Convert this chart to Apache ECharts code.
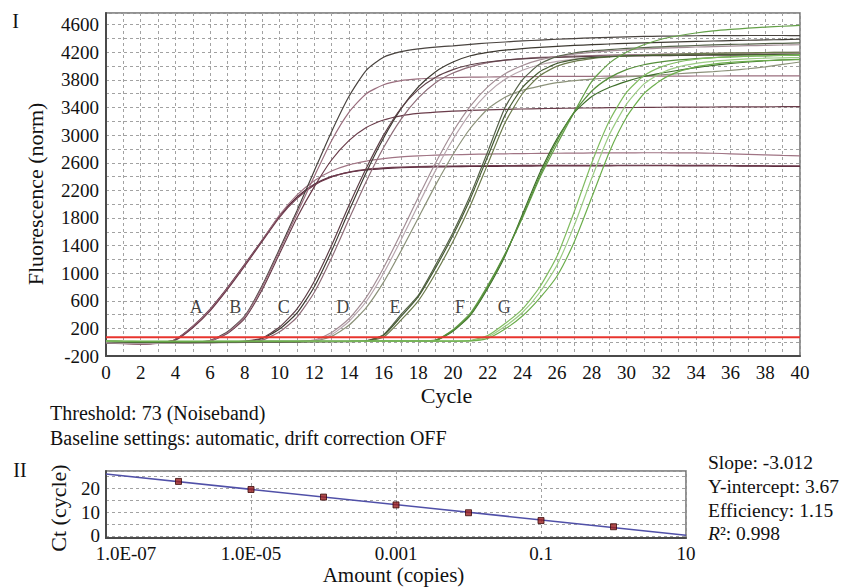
<!DOCTYPE html>
<html><head><meta charset="utf-8">
<script src="https://cdn.jsdelivr.net/npm/echarts@6/dist/echarts.min.js"></script>
<style>html,body{margin:0;padding:0;background:#fff}#c{width:844px;height:588px}</style>
</head><body><div id="c"></div>
<script>
// ---------- Panel I data ----------
const cycles = [0,1,2,3,4,5,6,7,8,9,10,11,12,13,14,15,16,17,18,19,20,21,22,23,24,25,26,27,28,29,30,31,32,33,34,35,36,37,38,39,40];
const yTickLabels = [-200,200,600,1000,1400,1800,2200,2600,3000,3400,3800,4200,4600];
const xTickLabels = [0,2,4,6,8,10,12,14,16,18,20,22,24,26,28,30,32,34,36,38,40];
const threshold = 73;
const groupNames = ['A','B','C','D','E','F','G'];
const groupLabelCycles = [5.2,7.45,10.25,13.65,16.65,20.4,22.95];
const groupLabelLevel = 510;

const curveA1 = [-8,-18,-24,-12,40,230,480,790,1130,1480,1830,2100,2290,2400,2460,2495,2515,2528,2535,2540,2543,2546,2548,2550,2552,2553,2554,2555,2556,2556,2557,2557,2557,2556,2555,2554,2553,2552,2550,2548,2546];
const curveA2 = [-10,-22,-28,-15,35,225,470,780,1120,1470,1840,2130,2340,2480,2570,2625,2660,2685,2700,2710,2716,2722,2726,2730,2733,2736,2738,2740,2742,2743,2744,2745,2745,2744,2742,2738,2730,2722,2714,2706,2700];
const curveA3 = [-5,-15,-20,-10,30,210,455,765,1105,1460,1810,2080,2275,2395,2465,2505,2525,2538,2545,2550,2553,2556,2558,2560,2561,2562,2563,2563,2564,2564,2564,2564,2563,2563,2562,2561,2560,2558,2557,2556,2555];
const curveB1 = [-5,-12,-18,-15,-8,0,25,150,380,820,1350,1900,2480,3050,3560,3940,4130,4210,4250,4275,4295,4315,4335,4350,4365,4378,4390,4400,4410,4418,4425,4430,4434,4437,4440,4442,4443,4444,4444,4444,4443];
const curveB2 = [-8,-15,-20,-18,-10,-2,15,125,345,760,1280,1800,2250,2640,2920,3110,3220,3280,3315,3335,3348,3358,3366,3373,3379,3384,3388,3392,3395,3398,3400,3402,3404,3406,3407,3408,3409,3410,3411,3412,3413];
const curveB3 = [-10,-18,-22,-18,-10,-2,20,140,370,800,1320,1860,2400,2920,3330,3600,3730,3790,3815,3828,3835,3840,3843,3846,3848,3850,3851,3852,3853,3854,3855,3855,3856,3856,3857,3857,3858,3858,3859,3859,3860];
const curveC1 = [-5,-10,-15,-15,-12,-8,-5,0,10,50,190,420,800,1320,1900,2460,2960,3380,3700,3920,4060,4150,4200,4232,4255,4272,4287,4300,4311,4321,4330,4338,4345,4352,4358,4364,4370,4375,4380,4385,4390];
const curveC2 = [-8,-14,-18,-16,-12,-8,-5,-2,5,30,150,360,720,1220,1780,2330,2820,3230,3540,3760,3900,3990,4050,4088,4110,4126,4138,4147,4154,4160,4165,4169,4173,4176,4179,4181,4183,4185,4187,4188,4190];
const curveC3 = [-6,-12,-16,-14,-10,-6,-3,2,15,60,220,480,880,1400,1980,2520,3000,3390,3660,3840,3950,4020,4060,4088,4105,4118,4127,4134,4139,4143,4147,4150,4152,4155,4157,4159,4160,4162,4163,4164,4165];
const curveD1 = [-5,-10,-12,-12,-10,-8,-6,-4,-2,0,2,8,30,140,340,650,1080,1580,2100,2600,3050,3420,3700,3890,4010,4090,4140,4175,4200,4220,4236,4249,4260,4269,4277,4284,4290,4296,4301,4306,4310];
const curveD2 = [0,-5,-8,-8,-6,-5,-4,-3,-2,0,2,5,15,85,245,500,870,1320,1800,2280,2720,3100,3380,3550,3650,3710,3760,3790,3812,3830,3846,3860,3875,3890,3905,3920,3940,3962,3990,4025,4060];
const curveD3 = [-6,-12,-15,-14,-12,-10,-8,-6,-4,-2,0,6,22,110,300,590,1000,1480,1990,2490,2940,3320,3610,3810,3940,4020,4070,4103,4125,4140,4152,4161,4169,4175,4181,4186,4190,4194,4197,4200,4203];
const curveE1 = [10,5,0,0,2,3,4,5,5,6,6,7,8,9,10,20,110,400,680,1120,1590,2130,2760,3400,3800,4030,4140,4190,4220,4240,4256,4269,4280,4290,4299,4307,4314,4320,4326,4331,4336];
const curveE2 = [12,8,4,3,4,5,6,6,7,7,8,8,9,10,11,15,75,320,600,1000,1460,1980,2580,3180,3600,3860,4000,4070,4110,4133,4148,4160,4169,4176,4182,4187,4191,4194,4197,4199,4201];
const curveE3 = [8,4,1,1,2,3,4,4,5,5,6,6,7,8,9,18,100,370,660,1080,1550,2080,2690,3290,3690,3920,4040,4095,4122,4138,4148,4154,4158,4161,4164,4166,4167,4168,4169,4170,4170];
const curveF1 = [15,12,10,9,9,10,10,11,11,12,12,13,13,14,14,15,15,16,17,30,180,420,820,1280,1800,2380,2870,3340,3780,4040,4200,4310,4390,4440,4480,4510,4532,4550,4565,4578,4590];
const curveF2 = [14,10,8,8,8,9,9,10,10,11,11,12,12,12,13,13,14,14,15,25,160,390,780,1250,1850,2450,2950,3330,3560,3690,3780,3850,3900,3940,3978,4010,4038,4060,4078,4090,4100];
const curveF3 = [13,10,8,7,8,8,9,9,10,10,11,11,12,12,13,13,14,14,15,28,170,400,800,1270,1820,2410,2920,3340,3640,3830,3950,4020,4062,4090,4110,4124,4135,4143,4150,4155,4160];
const curveG1 = [18,15,13,12,12,12,12,13,13,13,13,14,14,14,14,15,15,15,15,16,16,25,95,270,480,800,1250,1900,2600,3200,3620,3860,3990,4060,4100,4122,4136,4146,4152,4157,4162];
const curveG2 = [16,14,12,11,11,11,12,12,12,12,13,13,13,13,14,14,14,14,15,15,16,20,75,230,430,720,1120,1700,2380,3000,3450,3740,3900,3990,4040,4070,4090,4105,4115,4120,4125];
const curveG3 = [17,14,12,12,12,12,12,12,13,13,13,13,14,14,14,14,15,15,15,15,16,18,55,190,380,640,960,1460,2100,2750,3260,3600,3800,3920,3990,4030,4055,4070,4080,4090,4095];

// ---------- Panel II data ----------
const amounts = [1e-6,1e-5,1e-4,1e-3,1e-2,1e-1,1];
const ctValues = [23.0,19.6,16.4,13.1,9.8,6.5,3.9];
const fitAmounts = [1e-7,10];
const fitCt = [26.1,0.35];
const amountTickLabels = ['1.0E-07','1.0E-05','0.001','0.1','10'];
const ctTickLabels = [0,10,20];
const ctRange = [-0.85,27.4];

// ---------- styles ----------
const FONT = '"Liberation Serif","Times New Roman",serif';
const TXT = '#111111';
const curveList = [
  [curveA1,'#56283a'],[curveA2,'#a07484'],[curveA3,'#6e3a4c'],
  [curveB1,'#4a4440'],[curveB2,'#6a3c4a'],[curveB3,'#9a6e7e'],
  [curveC1,'#3e3a32'],[curveC2,'#8e6c78'],[curveC3,'#5e4048'],
  [curveD1,'#a48e96'],[curveD2,'#8c927a'],[curveD3,'#b8a6ae'],
  [curveE1,'#56624a'],[curveE2,'#6c7a4c'],[curveE3,'#465c34'],
  [curveF1,'#64a048'],[curveF2,'#3e6e2a'],[curveF3,'#558e3a'],
  [curveG1,'#80bc60'],[curveG2,'#9ccc84'],[curveG3,'#6cae4c']
];
const LOG0 = Math.log10(fitAmounts[0]);
const decade = a => Math.round((Math.log10(a) - LOG0) * 1e6) / 1e6;

const gridLine = {show:true, lineStyle:{color:'#a2a2a2', type:[3,3], width:1}};
const axisLineStyle = {show:true, onZero:false, lineStyle:{color:'#4a4a4a', width:2}};

const series = curveList.map(([arr,color]) => ({
  type:'line', xAxisIndex:0, yAxisIndex:0, silent:true,
  data: cycles.map((c,i)=>[c, arr[i]]),
  symbol:'none', smooth:0.2,
  lineStyle:{color, width:1.2}
}));
series.push({
  type:'line', xAxisIndex:0, yAxisIndex:0, silent:true, symbol:'none',
  data:[[cycles[0],threshold],[cycles[cycles.length-1],threshold]],
  lineStyle:{color:'#e8342e', width:2}, z:5
});
series.push({
  type:'scatter', xAxisIndex:0, yAxisIndex:0, silent:true, symbolSize:1,
  itemStyle:{color:'rgba(0,0,0,0)'},
  data: groupNames.map((n,i)=>[groupLabelCycles[i], groupLabelLevel, n]),
  label:{show:true, position:'inside', formatter:p=>p.data[2], fontFamily:FONT, fontSize:18, color:TXT},
  z:6
});
series.push({
  type:'line', xAxisIndex:1, yAxisIndex:1, silent:true, symbol:'none',
  data: fitAmounts.map((a,i)=>[decade(a), fitCt[i]]),
  lineStyle:{color:'#5050a8', width:1.5}
});
series.push({
  type:'scatter', xAxisIndex:1, yAxisIndex:1, silent:true, symbol:'rect', symbolSize:6,
  data: amounts.map((a,i)=>[decade(a), ctValues[i]]),
  itemStyle:{color:'#9a1e1e', borderColor:'#3a0a0a', borderWidth:1}, z:4
});

const txt = (text, x, y, size, align, extra) => Object.assign({
  type:'text', x, y, silent:true,
  style:{text, font: size+'px '+FONT, fill:TXT, textAlign:align||'left', textVerticalAlign:'middle'}
}, extra||{});

const option = {
  animation:false,
  backgroundColor:'#ffffff',
  textStyle:{fontFamily:FONT},
  grid:[
    {left:106, top:13, width:694, height:343, show:true, borderColor:'#6e6e6e', borderWidth:1.5},
    {left:106, top:471, width:580, height:67, show:true, borderColor:'#6e6e6e', borderWidth:1.5}
  ],
  xAxis:[
    {gridIndex:0, type:'value', min:cycles[0], max:cycles[cycles.length-1], interval:1,
     axisLine:axisLineStyle, axisTick:{show:false}, splitLine:gridLine,
     axisLabel:{fontFamily:FONT, fontSize:19, color:TXT, margin:7,
       formatter:v=>xTickLabels.includes(v)?String(v):''}},
    {gridIndex:1, type:'value', min:0, max:decade(fitAmounts[1]), interval:2,
     axisLine:axisLineStyle, axisTick:{show:false}, splitLine:gridLine,
     axisLabel:{fontFamily:FONT, fontSize:19, color:TXT, margin:6,
       formatter:v=>{const k=Math.round(v/2); const s=amountTickLabels[k]||''; return k===0?'{f|'+s+'}':s;},
       rich:{f:{fontFamily:FONT, fontSize:19, color:TXT, padding:[0,0,0,40]}}}}
  ],
  yAxis:[
    {gridIndex:0, type:'value', min:-200, max:4770, interval:200,
     axisLine:axisLineStyle, axisTick:{show:false}, splitLine:gridLine,
     axisLabel:{fontFamily:FONT, fontSize:19, color:TXT, margin:7,
       formatter:v=>yTickLabels.includes(v)?String(v):''}},
    {gridIndex:1, type:'value', min:ctRange[0], max:ctRange[1], splitNumber:6,
     axisLine:axisLineStyle, axisTick:{show:false}, splitLine:gridLine,
     axisLabel:{fontFamily:FONT, fontSize:19, color:TXT, margin:6,
       formatter:v=>ctTickLabels.includes(v)?String(v):''}}
  ],
  graphic:[
    txt('I', 15.5, 21, 20, 'center'),
    txt('II', 20, 470, 20, 'center'),
    txt('Fluorescence (norm)', 35, 194, 22, 'center', {rotation:Math.PI/2}),
    txt('Cycle', 446.5, 395, 22, 'center'),
    txt('Threshold: 73 (Noiseband)', 50, 413, 20, 'left'),
    txt('Baseline settings: automatic, drift correction OFF', 50, 438, 20, 'left'),
    txt('Ct (cycle)', 58, 508, 22, 'center', {rotation:Math.PI/2}),
    txt('Amount (copies)', 393.5, 575, 21, 'center'),
    txt('Slope: -3.012', 708, 462, 19.5, 'left'),
    txt('Y-intercept: 3.67', 708, 486.5, 19.5, 'left'),
    txt('Efficiency: 1.15', 708, 510, 19.5, 'left'),
    {type:'text', x:708, y:533, silent:true,
     style:{text:'{i|R}²: 0.998', font:'19.5px '+FONT, fill:TXT, textAlign:'left', textVerticalAlign:'middle',
       rich:{i:{fontStyle:'italic', fontFamily:FONT, fontSize:19.5, fill:TXT}}}}
  ],
  series
};
const chart = echarts.init(document.getElementById('c'), null, {renderer:'svg', width:844, height:588});
chart.setOption(option);
</script>
</body></html>
